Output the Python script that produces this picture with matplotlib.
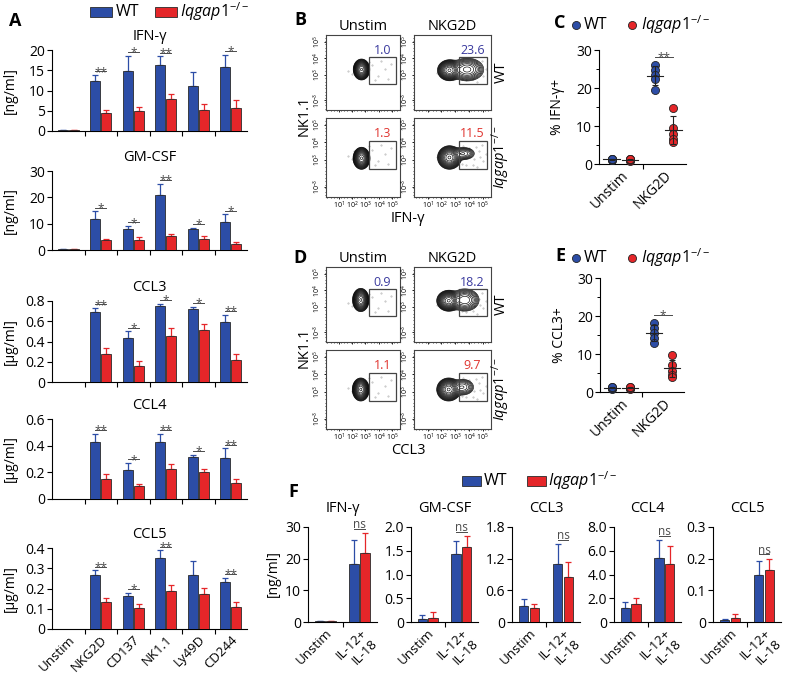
import numpy as np
import matplotlib.pyplot as plt
from matplotlib.patches import Rectangle
from matplotlib.lines import Line2D
from matplotlib.ticker import FixedLocator

plt.rcParams['font.family'] = ['Open Sans', 'DejaVu Sans']
plt.rcParams['mathtext.fontset'] = 'custom'
plt.rcParams['mathtext.rm'] = 'Open Sans'
plt.rcParams['mathtext.it'] = 'Open Sans:italic'
plt.rcParams['mathtext.bf'] = 'Open Sans:bold'
plt.rcParams['axes.linewidth'] = 0.8
plt.rcParams['xtick.direction'] = 'out'
plt.rcParams['ytick.direction'] = 'out'

BLUE = '#2c4da6'
RED = '#e52629'
EDGE = '#2a2a2a'
SIG = '#4a4a4a'
KO_LABEL = r'$\mathit{Iqgap1}^{\mathit{-/-}}$'

# ---- panel A data (upper error = SEM) ----
stims_a = ['Unstim', 'NKG2D', 'CD137', 'NK1.1', 'Ly49D', 'CD244']

ifng_wt = [0.3, 12.4, 14.8, 16.4, 11.1, 15.7]
ifng_wt_err = [0.05, 1.4, 3.8, 2.0, 3.5, 3.1]
ifng_ko = [0.3, 4.5, 4.9, 7.9, 5.3, 5.7]
ifng_ko_err = [0.05, 0.7, 1.1, 1.2, 1.4, 2.0]
ifng_sig = ['', '**', '*', '**', '', '*']

gmcsf_wt = [0.2, 11.9, 8.1, 21.0, 7.8, 10.6]
gmcsf_wt_err = [0.0, 2.8, 1.0, 4.2, 0.7, 2.9]
gmcsf_ko = [0.2, 3.7, 3.7, 5.5, 4.0, 2.4]
gmcsf_ko_err = [0.0, 0.6, 1.2, 0.7, 1.2, 0.5]
gmcsf_sig = ['', '*', '*', '**', '*', '*']

ccl3_wt = [0.0, 0.69, 0.43, 0.747, 0.724, 0.593]
ccl3_wt_err = [0.0, 0.04, 0.07, 0.027, 0.02, 0.072]
ccl3_ko = [0.0, 0.28, 0.16, 0.457, 0.514, 0.214]
ccl3_ko_err = [0.0, 0.055, 0.05, 0.076, 0.059, 0.066]
ccl3_sig = ['', '**', '*', '*', '*', '**']

ccl4_wt = [0.0, 0.43, 0.214, 0.43, 0.315, 0.307]
ccl4_wt_err = [0.0, 0.06, 0.056, 0.06, 0.017, 0.073]
ccl4_ko = [0.0, 0.152, 0.10, 0.222, 0.20, 0.12]
ccl4_ko_err = [0.0, 0.035, 0.012, 0.042, 0.025, 0.03]
ccl4_sig = ['', '**', '*', '**', '*', '**']

ccl5_wt = [0.0, 0.269, 0.164, 0.351, 0.266, 0.23]
ccl5_wt_err = [0.0, 0.021, 0.016, 0.038, 0.068, 0.024]
ccl5_ko = [0.0, 0.134, 0.102, 0.187, 0.175, 0.11]
ccl5_ko_err = [0.0, 0.017, 0.019, 0.029, 0.028, 0.024]
ccl5_sig = ['', '**', '*', '**', '', '**']

# ---- panels B / D: gate frequencies and population shapes (axes fraction) ----
ifng_gate_pct = ['1.0', '23.6', '1.3', '11.5']
ccl3_gate_pct = ['0.9', '18.2', '1.1', '9.7']
# (center x, center y, sd x, sd y, weight)
ifng_pops = [
    [(0.48, 0.54, 0.036, 0.045, 1.0)],
    [(0.46, 0.53, 0.05, 0.045, 1.0), (0.69, 0.54, 0.085, 0.06, 0.2)],
    [(0.48, 0.49, 0.037, 0.045, 1.0)],
    [(0.46, 0.50, 0.05, 0.048, 1.0), (0.64, 0.55, 0.065, 0.035, 0.09)],
]
ccl3_pops = [
    [(0.47, 0.56, 0.036, 0.05, 1.0)],
    [(0.45, 0.55, 0.05, 0.045, 1.0), (0.66, 0.56, 0.075, 0.06, 0.17)],
    [(0.47, 0.50, 0.037, 0.047, 1.0)],
    [(0.45, 0.50, 0.05, 0.047, 1.0), (0.63, 0.53, 0.065, 0.045, 0.09)],
]
# scattered single events (axes fraction)
unstim_events_x = [0.62, 0.70, 0.80, 0.66, 0.88, 0.35, 0.38, 0.55, 0.74, 0.30, 0.84, 0.58]
unstim_events_y = [0.60, 0.45, 0.55, 0.40, 0.62, 0.48, 0.58, 0.52, 0.66, 0.52, 0.42, 0.64]
stim_events_x = [0.78, 0.85, 0.90, 0.62, 0.72, 0.82, 0.68, 0.93, 0.30, 0.33, 0.88, 0.76,
                 0.64, 0.80, 0.86]
stim_events_y = [0.48, 0.58, 0.45, 0.42, 0.62, 0.38, 0.40, 0.55, 0.50, 0.56, 0.66, 0.41,
                 0.65, 0.63, 0.50]

# ---- panels C / E: individual mice ----
ifng_pct_unstim_wt = [1.0, 1.1, 1.2, 1.3, 1.4]
ifng_pct_unstim_ko = [0.9, 1.1, 1.2, 1.3, 1.4]
ifng_pct_nkg2d_wt = [26.0, 24.7, 23.4, 22.3, 19.5]
ifng_pct_nkg2d_ko = [14.8, 9.6, 7.8, 6.5, 5.8]

ccl3_pct_unstim_wt = [0.9, 1.0, 1.1, 1.2, 1.3]
ccl3_pct_unstim_ko = [0.9, 1.0, 1.1, 1.2, 1.3]
ccl3_pct_nkg2d_wt = [18.1, 16.8, 15.4, 14.1, 12.8]
ccl3_pct_nkg2d_ko = [9.7, 7.2, 5.6, 4.6, 4.0]

# ---- panel F data ----
stims_f = ['Unstim', 'IL-12+\nIL-18']
f_titles = ['IFN-γ', 'GM-CSF', 'CCL3', 'CCL4', 'CCL5']
f_ifng_wt, f_ifng_wt_err = [0.3, 18.3], [0.05, 7.5]
f_ifng_ko, f_ifng_ko_err = [0.3, 21.7], [0.05, 6.4]
f_gmcsf_wt, f_gmcsf_wt_err = [0.07, 1.43], [0.085, 0.28]
f_gmcsf_ko, f_gmcsf_ko_err = [0.09, 1.58], [0.12, 0.23]
f_ccl3_wt, f_ccl3_wt_err = [0.305, 1.10], [0.125, 0.38]
f_ccl3_ko, f_ccl3_ko_err = [0.27, 0.86], [0.08, 0.28]
f_ccl4_wt, f_ccl4_wt_err = [1.22, 5.37], [0.45, 1.55]
f_ccl4_ko, f_ccl4_ko_err = [1.50, 4.89], [0.48, 1.52]
f_ccl5_wt, f_ccl5_wt_err = [0.005, 0.15], [0.005, 0.043]
f_ccl5_ko, f_ccl5_ko_err = [0.013, 0.163], [0.011, 0.037]

W, H = 788, 677
fig = plt.figure(figsize=(W / 100, H / 100), dpi=100)


def px_axes(x0, y0, x1, y1):
    return fig.add_axes([x0 / W, 1 - y1 / H, (x1 - x0) / W, (y1 - y0) / H])


def ftext(x, y, s, **kw):
    fig.text(x / W, 1 - y / H, s, **kw)


def bar_panel(ax, wt, wt_err, ko, ko_err, sig, ymax, yticks, ylabels, width, off,
              cats=None, sig_word=False):
    n = len(wt)
    x = np.arange(n)
    ax.bar(x - off, wt, width, color=BLUE, edgecolor=EDGE, linewidth=0.6, zorder=3)
    ax.bar(x + off, ko, width, color=RED, edgecolor=EDGE, linewidth=0.6, zorder=3)
    for xs, vals, errs, c in [(x - off, wt, wt_err, BLUE), (x + off, ko, ko_err, RED)]:
        for xi, v, e in zip(xs, vals, errs):
            if v > 0:
                ax.errorbar(xi, v, yerr=[[0], [e]], color=c, capsize=2.2, lw=0.9,
                            capthick=0.9, zorder=2)
    for i, s in enumerate(sig):
        if not s:
            continue
        top = max(wt[i] + wt_err[i], ko[i] + ko_err[i]) + 0.045 * ymax
        ax.plot([i - off, i + off], [top, top], color=SIG, lw=0.7, clip_on=False)
        dy = 0.3 if sig_word else -3.2
        ax.annotate(s, (i, top), xytext=(0, dy), textcoords='offset points',
                    ha='center', va='baseline', fontsize=8.5, color=SIG,
                    annotation_clip=False)
    ax.set_xlim(-0.5, n - 0.5)
    ax.set_ylim(0, ymax)
    ax.spines[['top', 'right']].set_visible(False)
    ax.set_yticks(yticks, ylabels)
    ax.set_xticks(np.arange(0.5, n - 0.5), [])
    ax.tick_params(axis='both', length=3.5, width=0.8, labelsize=10, pad=1.5)
    if cats is not None:
        ax.set_xticks(x, cats, minor=True)
        ax.tick_params(axis='x', which='minor', length=0, labelsize=9.5, pad=3)
        for lab in ax.get_xticklabels(minor=True):
            lab.set_rotation(45)
            lab.set_ha('right')
            lab.set_rotation_mode('anchor')


# ================= Panel A =================
a_specs = [
    ('IFN-γ', '[ng/ml]', ifng_wt, ifng_wt_err, ifng_ko, ifng_ko_err, ifng_sig, 20,
     [0, 5, 10, 15, 20], ['0', '5', '10', '15', '20'], 50, 131),
    ('GM-CSF', '[ng/ml]', gmcsf_wt, gmcsf_wt_err, gmcsf_ko, gmcsf_ko_err, gmcsf_sig, 30,
     [0, 10, 20, 30], ['0', '10', '20', '30'], 171, 250),
    ('CCL3', '[µg/ml]', ccl3_wt, ccl3_wt_err, ccl3_ko, ccl3_ko_err, ccl3_sig, 0.8,
     [0, 0.2, 0.4, 0.6, 0.8], ['0', '0.2', '0.4', '0.6', '0.8'], 301, 382),
    ('CCL4', '[µg/ml]', ccl4_wt, ccl4_wt_err, ccl4_ko, ccl4_ko_err, ccl4_sig, 0.6,
     [0, 0.2, 0.4, 0.6], ['0', '0.2', '0.4', '0.6'], 419, 499),
    ('CCL5', '[µg/ml]', ccl5_wt, ccl5_wt_err, ccl5_ko, ccl5_ko_err, ccl5_sig, 0.4,
     [0, 0.1, 0.2, 0.3, 0.4], ['0', '0.1', '0.2', '0.3', '0.4'], 548, 629),
]
for k, (title, unit, wt, wte, ko, koe, sig, ymax, yt, yl, top, bot) in enumerate(a_specs):
    ax = px_axes(52, top, 247, bot)
    bar_panel(ax, wt, wte, ko, koe, sig, ymax, yt, yl, 0.3, 0.17,
              cats=stims_a if k == len(a_specs) - 1 else None)
    ax.set_title(title, fontsize=10.5, pad=7)
    ftext(10, (top + bot) / 2, unit, rotation=90, ha='center', va='center', fontsize=10)

ftext(15, 21, 'A', fontsize=13, fontweight='bold', ha='center', va='center')
fig.add_artist(Rectangle((90 / W, 1 - 17 / H), 22 / W, 10 / H, transform=fig.transFigure,
                         facecolor=BLUE, edgecolor=EDGE, lw=0.6))
ftext(116, 11.5, 'WT', fontsize=11.5, va='center')
fig.add_artist(Rectangle((155 / W, 1 - 17 / H), 22 / W, 10 / H, transform=fig.transFigure,
                         facecolor=RED, edgecolor=EDGE, lw=0.6))
ftext(180, 11.5, KO_LABEL, fontsize=11.5, va='center')

# ================= Panels B and D =================
gx = np.linspace(0, 1, 300)
GX, GY = np.meshgrid(gx, gx)
levels = np.geomspace(0.008, 0.93, 15)


def flow_panel(ax, pops, pct, col, bottom_row, stim):
    dens = np.zeros_like(GX)
    for cx, cy, sx, sy, w in pops:
        dens += w * np.exp(-0.5 * (((GX - cx) / sx) ** 2 + ((GY - cy) / sy) ** 2))
    if stim:
        ax.plot(stim_events_x, stim_events_y, '.', ms=0.8, color='#b0b0b0', zorder=1)
    else:
        ax.plot(unstim_events_x, unstim_events_y, '.', ms=0.8, color='#b0b0b0', zorder=1)
    ax.contour(GX, GY, dens, levels=levels, colors='k', linewidths=0.45, zorder=2)
    ax.add_patch(Rectangle((0.58, 0.35), 0.37, 0.36, fill=False, edgecolor='#444',
                           lw=0.9, zorder=3))
    ax.text(0.76, 0.8, pct, color=col, fontsize=9, ha='center', va='center',
            transform=ax.transAxes)
    ax.set_xlim(0, 1)
    ax.set_ylim(0, 1)
    for s in ax.spines.values():
        s.set_color('#444')
    ax.set_yticks([0.13, 0.47, 0.69, 0.91],
                  ['$10^{-3}$', '$10^{3}$', '$10^{4}$', '$10^{5}$'])
    ax.yaxis.set_minor_locator(FixedLocator(np.arange(0.02, 1.0, 0.045)))
    ax.xaxis.set_minor_locator(FixedLocator(np.arange(0.02, 1.0, 0.045)))
    ax.tick_params(axis='y', labelsize=5, pad=0.5, length=1.5, width=0.6)
    for lab in ax.get_yticklabels():
        lab.set_rotation(90)
        lab.set_va('center')
    ax.tick_params(which='minor', length=1.0, width=0.5)
    xt = [0.18, 0.35, 0.53, 0.72, 0.89]
    if bottom_row:
        ax.set_xticks(xt, ['$10^{1}$', '$10^{2}$', '$10^{3}$', '$10^{4}$', '$10^{5}$'])
    else:
        ax.set_xticks(xt, [])
    ax.tick_params(axis='x', labelsize=5, pad=0.8, length=1.5, width=0.6)


for pops_set, pcts, top0, xlab, letter, ly in [
        (ifng_pops, ifng_gate_pct, 35, 'IFN-γ', 'B', 20),
        (ccl3_pops, ccl3_gate_pct, 267, 'CCL3', 'D', 258)]:
    boxes = [(326, top0, 400, top0 + 75), (414, top0, 491, top0 + 75),
             (326, top0 + 83, 400, top0 + 162), (414, top0 + 83, 491, top0 + 162)]
    for j, (x0, y0, x1, y1) in enumerate(boxes):
        ax = px_axes(x0, y0, x1, y1)
        flow_panel(ax, pops_set[j], pcts[j], '#3a3a9e' if j < 2 else '#e0342f',
                   j >= 2, j % 2 == 1)
    ftext(300, ly, letter, fontsize=13, fontweight='bold', ha='center', va='center')
    ftext(363, top0 - 9, 'Unstim', fontsize=10.5, ha='center', va='center')
    ftext(452, top0 - 9, 'NKG2D', fontsize=10.5, ha='center', va='center')
    ftext(304, top0 + 81, 'NK1.1', fontsize=10.5, rotation=90, ha='center', va='center')
    ftext(408, top0 + 184, xlab, fontsize=10.5, ha='center', va='center')
    ftext(501, top0 + 37, 'WT', fontsize=10.5, rotation=90, ha='center', va='center')
    ftext(501, top0 + 122, KO_LABEL, fontsize=10.5, rotation=90, ha='center', va='center')

# ================= Panels C and E =================


def dot_panel(ax, groups, ylabel, sig_text):
    offs = [-0.21, 0.21]
    cols = [BLUE, RED]
    for gi, pair in enumerate(groups):
        for k, vals in enumerate(pair):
            xc = gi + offs[k]
            ax.plot([xc] * len(vals), vals, 'o', ms=5.8, mfc=cols[k], mec='#222',
                    mew=0.6, zorder=3, clip_on=False)
            m = np.mean(vals)
            sd = np.std(vals, ddof=1)
            ax.plot([xc - 0.19, xc + 0.19], [m, m], color='#222', lw=0.8, zorder=4)
            ax.errorbar(xc, m, yerr=sd, color='#222', capsize=2.2, lw=0.8,
                        capthick=0.8, zorder=4)
    top = max(np.max(groups[1][0]), np.max(groups[1][1])) + 2.2
    ax.plot([1 + offs[0], 1 + offs[1]], [top, top], color=SIG, lw=0.7, clip_on=False)
    ax.annotate(sig_text, (1, top), xytext=(0, -3.2), textcoords='offset points',
                ha='center', va='baseline', fontsize=8.5, color=SIG,
                annotation_clip=False)
    ax.set_xlim(-0.5, 1.5)
    ax.set_ylim(0, 30)
    ax.spines[['top', 'right']].set_visible(False)
    ax.set_yticks([0, 10, 20, 30])
    ax.set_yticks([5, 15, 25], minor=True)
    ax.set_xticks([0.5], [])
    ax.set_xticks([0, 1], ['Unstim', 'NKG2D'], minor=True)
    ax.tick_params(axis='both', length=3.5, width=0.8, labelsize=10, pad=1.5)
    ax.tick_params(axis='y', which='minor', length=2, width=0.7)
    ax.tick_params(axis='x', which='minor', length=0, labelsize=10, pad=3)
    for lab in ax.get_xticklabels(minor=True):
        lab.set_rotation(45)
        lab.set_ha('right')
        lab.set_rotation_mode('anchor')
    ax.set_ylabel(ylabel, fontsize=10)
    ax.yaxis.set_label_coords(-0.39, 0.5)


axc = px_axes(599, 50, 686, 164)
dot_panel(axc, [(ifng_pct_unstim_wt, ifng_pct_unstim_ko),
                (ifng_pct_nkg2d_wt, ifng_pct_nkg2d_ko)], '% IFN-γ+', '**')
axe = px_axes(600, 278, 684, 392)
dot_panel(axe, [(ccl3_pct_unstim_wt, ccl3_pct_unstim_ko),
                (ccl3_pct_nkg2d_wt, ccl3_pct_nkg2d_ko)], '% CCL3+', '*')

for letter, ly in [('C', 25), ('E', 258)]:
    ftext(560, ly - 2, letter, fontsize=13, fontweight='bold', ha='center', va='center')
    fig.add_artist(Line2D([576 / W], [1 - ly / H], marker='o', ms=5.8, mfc=BLUE,
                          mec='#222', mew=0.6, transform=fig.transFigure))
    ftext(584, ly, 'WT', fontsize=11.5, va='center')
    fig.add_artist(Line2D([632 / W], [1 - ly / H], marker='o', ms=5.8, mfc=RED,
                          mec='#222', mew=0.6, transform=fig.transFigure))
    ftext(641, ly, KO_LABEL, fontsize=11.5, va='center')

# ================= Panel F =================
f_specs = [
    (f_ifng_wt, f_ifng_wt_err, f_ifng_ko, f_ifng_ko_err, 30, [0, 10, 20, 30],
     ['0', '10', '20', '30'], 308, 377),
    (f_gmcsf_wt, f_gmcsf_wt_err, f_gmcsf_ko, f_gmcsf_ko_err, 2.0, [0, 0.5, 1.0, 1.5, 2.0],
     ['0', '0.5', '1.0', '1.5', '2.0'], 411, 478),
    (f_ccl3_wt, f_ccl3_wt_err, f_ccl3_ko, f_ccl3_ko_err, 1.8, [0, 0.6, 1.2, 1.8],
     ['0', '0.6', '1.2', '1.8'], 512, 580),
    (f_ccl4_wt, f_ccl4_wt_err, f_ccl4_ko, f_ccl4_ko_err, 8.0, [0, 2, 4, 6, 8],
     ['0', '2.0', '4.0', '6.0', '8.0'], 614, 681),
    (f_ccl5_wt, f_ccl5_wt_err, f_ccl5_ko, f_ccl5_ko_err, 0.3, [0, 0.1, 0.2, 0.3],
     ['0', '0.1', '0.2', '0.3'], 713, 781),
]
for k, (wt, wte, ko, koe, ymax, yt, yl, x0, x1) in enumerate(f_specs):
    ax = px_axes(x0, 527, x1, 622)
    bar_panel(ax, wt, wte, ko, koe, ['', 'ns'], ymax, yt, yl, 0.28, 0.16,
              cats=stims_f, sig_word=True)
    ax.set_title(f_titles[k], fontsize=10.5, pad=11)

ftext(273, 574, '[ng/ml]', rotation=90, ha='center', va='center', fontsize=10)
ftext(293, 492, 'F', fontsize=13, fontweight='bold', ha='center', va='center')
fig.add_artist(Rectangle((462 / W, 1 - 486 / H), 19 / W, 10 / H, transform=fig.transFigure,
                         facecolor=BLUE, edgecolor=EDGE, lw=0.6))
ftext(484, 481, 'WT', fontsize=11.5, va='center')
fig.add_artist(Rectangle((527 / W, 1 - 486 / H), 19 / W, 10 / H, transform=fig.transFigure,
                         facecolor=RED, edgecolor=EDGE, lw=0.6))
ftext(548, 481, KO_LABEL, fontsize=11.5, va='center')

fig.savefig('out.png', dpi=100, facecolor='white')
